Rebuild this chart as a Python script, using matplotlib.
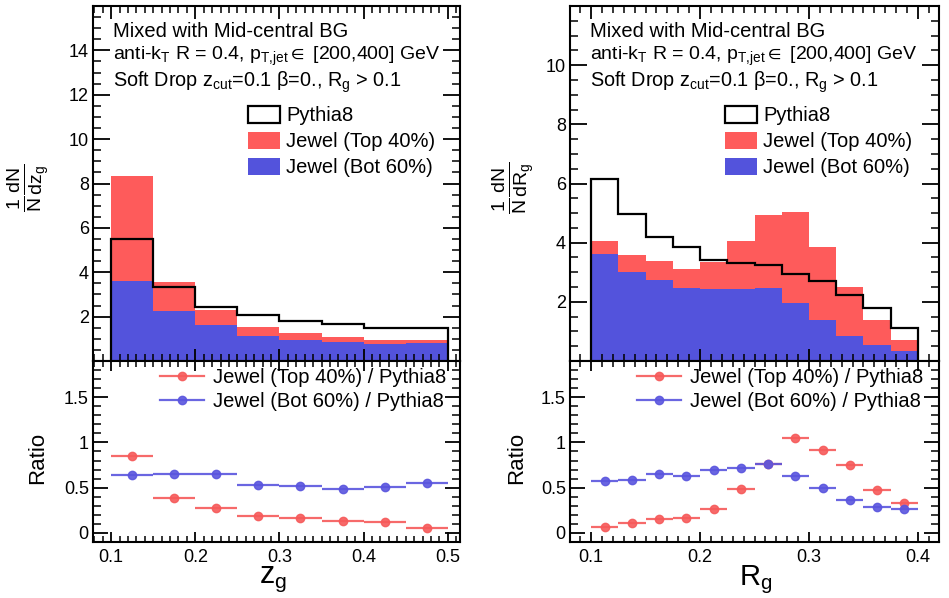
import numpy as np
import matplotlib
matplotlib.use("Agg")
import matplotlib.pyplot as plt
from matplotlib.patches import Patch
from matplotlib.lines import Line2D
from matplotlib.ticker import MultipleLocator, FuncFormatter

plt.rcParams['font.family'] = ['Liberation Sans', 'DejaVu Sans']
plt.rcParams['mathtext.fontset'] = 'custom'
plt.rcParams['mathtext.rm'] = 'Liberation Sans'
plt.rcParams['mathtext.it'] = 'Liberation Sans:italic'
plt.rcParams['mathtext.bf'] = 'Liberation Sans:bold'
plt.rcParams['mathtext.fallback'] = 'stixsans'

# ---------------- data ----------------
zg_edges = [0.10, 0.15, 0.20, 0.25, 0.30, 0.35, 0.40, 0.45, 0.50]
zg_pythia = [5.49, 3.34, 2.44, 2.09, 1.79, 1.69, 1.50, 1.50]
zg_jewel_bot = [3.60, 2.24, 1.64, 1.13, 0.94, 0.85, 0.77, 0.83]
zg_jewel_top = [4.72, 1.31, 0.68, 0.40, 0.30, 0.22, 0.18, 0.10]
zg_ratio_top = [0.85, 0.39, 0.28, 0.19, 0.17, 0.13, 0.12, 0.06]
zg_ratio_bot = [0.64, 0.65, 0.65, 0.53, 0.52, 0.49, 0.51, 0.55]

rg_edges = [0.100, 0.125, 0.150, 0.175, 0.200, 0.225, 0.250,
            0.275, 0.300, 0.325, 0.350, 0.375, 0.400]
rg_pythia = [6.14, 4.97, 4.18, 3.85, 3.40, 3.32, 3.23, 2.95, 2.69, 2.22, 1.78, 1.11]
rg_jewel_bot = [3.62, 3.01, 2.73, 2.47, 2.45, 2.42, 2.47, 1.95, 1.37, 0.83, 0.55, 0.33]
rg_jewel_top = [0.45, 0.56, 0.64, 0.63, 0.88, 1.63, 2.45, 3.10, 2.47, 1.67, 0.85, 0.37]
rg_ratio_top = [0.07, 0.11, 0.15, 0.16, 0.26, 0.49, 0.76, 1.05, 0.92, 0.75, 0.48, 0.33]
rg_ratio_bot = [0.57, 0.59, 0.65, 0.63, 0.70, 0.72, 0.76, 0.63, 0.50, 0.36, 0.29, 0.27]

RED = '#fe5b5b'
BLUE = '#5353dc'
RED_PT = '#f65a5a'
BLUE_PT = '#5a55de'

W, H = 949, 598
fig = plt.figure(figsize=(W / 100, H / 100), dpi=100)


def px_axes(x0, x1, y0, y1):
    return fig.add_axes([x0 / W, 1 - y1 / H, (x1 - x0) / W, (y1 - y0) / H])


def style(ax, ymaj_len, ymin_len, xmaj_len, xmin_len):
    for s in ax.spines.values():
        s.set_linewidth(1.5)
    ax.tick_params(axis='y', which='major', direction='in', length=ymaj_len,
                   width=1.3, left=True, right=True, labelsize=13, pad=3)
    ax.tick_params(axis='y', which='minor', direction='in', length=ymin_len,
                   width=1.1, left=True, right=True)
    ax.tick_params(axis='x', which='major', direction='in', length=xmaj_len,
                   width=1.3, top=True, bottom=True, labelsize=13, pad=5)
    ax.tick_params(axis='x', which='minor', direction='in', length=xmin_len,
                   width=1.1, top=True, bottom=True)


fmt = FuncFormatter(lambda v, p: f'{v:g}')

header = ["Mixed with Mid-central BG",
          r"anti-k$_{\mathrm{T}}$ R = 0.4, p$_{\mathrm{T{,}jet}}{\in}$ [200,400] GeV",
          r"Soft Drop z$_{\mathrm{cut}}$=0.1 β=0., R$_{\mathrm{g}}$ > 0.1"]
header_fs = [14.5, 14, 14.3]

panels = [
    dict(edges=zg_edges, py=zg_pythia, bot=zg_jewel_bot, top=zg_jewel_top,
         rt=zg_ratio_top, rb=zg_ratio_bot, x=(93, 460), xlim=(0.0785, 0.5145),
         ylim=(0, 16), yt=np.arange(2, 15, 2), xt=[0.1, 0.2, 0.3, 0.4, 0.5],
         ylab=r'$\frac{1}{\mathrm{N}}\frac{\mathrm{dN}}{\mathrm{dz_{g}}}$',
         ylab_x=28, ratio_x=38, xlab=r'z$_{\mathrm{g}}$', xlab_pos=(273, 583), xlab_fs=22),
    dict(edges=rg_edges, py=rg_pythia, bot=rg_jewel_bot, top=rg_jewel_top,
         rt=rg_ratio_top, rb=rg_ratio_bot, x=(570, 939), xlim=(0.0807, 0.4193),
         ylim=(0, 12), yt=np.arange(2, 11, 2), xt=[0.1, 0.2, 0.3, 0.4],
         ylab=r'$\frac{1}{\mathrm{N}}\frac{\mathrm{dN}}{\mathrm{dR_{g}}}$',
         ylab_x=513, ratio_x=517, xlab=r'R$_{\mathrm{g}}$', xlab_pos=(756, 585), xlab_fs=21),
]

for p in panels:
    x0, x1 = p['x']
    edges = np.array(p['edges'])
    bot = np.array(p['bot'])
    top = np.array(p['top'])
    centers = 0.5 * (edges[1:] + edges[:-1])
    half = 0.5 * np.diff(edges)

    ax = px_axes(x0, x1, 6, 361)
    ax.stairs(bot + top, edges, baseline=bot, fill=True, color=RED, lw=0)
    ax.stairs(bot, edges, baseline=0, fill=True, color=BLUE, lw=0)
    ax.stairs(p['py'], edges, baseline=0, fill=False, color='black', lw=1.6)
    ax.set_xlim(*p['xlim'])
    ax.set_ylim(*p['ylim'])
    ax.set_yticks(p['yt'])
    ax.yaxis.set_minor_locator(MultipleLocator(0.5))
    ax.xaxis.set_major_locator(MultipleLocator(0.1))
    ax.xaxis.set_minor_locator(MultipleLocator(0.01))
    ax.tick_params(labelbottom=False)
    style(ax, 12, 6, 9, 5)
    ax.yaxis.set_major_formatter(fmt)

    fx = 20 / (x1 - x0)
    for txt, yb, fs in zip(header, [37, 60, 87], header_fs):
        ax.text(fx, 1 - (yb - 6) / 355, txt, transform=ax.transAxes,
                fontsize=fs, va='baseline', ha='left')

    handles = [Patch(facecolor='white', edgecolor='black', lw=1.6),
               Patch(facecolor=RED, edgecolor='none'),
               Patch(facecolor=BLUE, edgecolor='none')]
    ax.legend(handles, ['Pythia8', 'Jewel (Top 40%)', 'Jewel (Bot 60%)'],
              loc='upper left', bbox_to_anchor=(155 / (x1 - x0), 1 - 100 / 355),
              frameon=False, fontsize=14.5, borderpad=0, borderaxespad=0,
              handlelength=1.6, handleheight=0.9, handletextpad=0.3,
              labelspacing=0.33)

    fig.text(p['ylab_x'] / W, 1 - 188 / H, p['ylab'], rotation=90,
             fontsize=20, ha='center', va='center')

    # ratio panel
    ar = px_axes(x0, x1, 361, 542)
    ar.errorbar(centers, p['rt'], xerr=half, fmt='o', color=RED_PT, ms=6,
                elinewidth=1.6, ecolor=RED_PT, alpha=0.9, capsize=0)
    ar.errorbar(centers, p['rb'], xerr=half, fmt='o', color=BLUE_PT, ms=6,
                elinewidth=1.6, ecolor=BLUE_PT, alpha=0.9, capsize=0)
    ar.set_xlim(*p['xlim'])
    ar.set_ylim(-0.1, 1.9)
    ar.set_yticks([0, 0.5, 1, 1.5])
    ar.yaxis.set_minor_locator(MultipleLocator(0.1))
    ar.set_xticks(p['xt'])
    ar.xaxis.set_minor_locator(MultipleLocator(0.01))
    ar.yaxis.set_major_formatter(fmt)
    ar.xaxis.set_major_formatter(fmt)
    style(ar, 11, 5.5, 7, 4)

    rh = [Line2D([0], [0], color=RED_PT, marker='o', ms=6, lw=1.6, alpha=0.9),
          Line2D([0], [0], color=BLUE_PT, marker='o', ms=6, lw=1.6, alpha=0.9)]
    ar.legend(rh, ['Jewel (Top 40%) / Pythia8', 'Jewel (Bot 60%) / Pythia8'],
              loc='upper left', bbox_to_anchor=(67 / (x1 - x0), 1 - 7 / 181),
              frameon=False, fontsize=14.5, borderpad=0, borderaxespad=0,
              handlelength=2.2, handletextpad=0.45, labelspacing=0.25)

    fig.text(p['ratio_x'] / W, 1 - 458 / H, 'Ratio', rotation=90,
             fontsize=16, ha='center', va='center')
    fig.text(p['xlab_pos'][0] / W, 1 - p['xlab_pos'][1] / H, p['xlab'],
             fontsize=p['xlab_fs'], ha='center', va='baseline')

fig.savefig('out.png', dpi=100)
